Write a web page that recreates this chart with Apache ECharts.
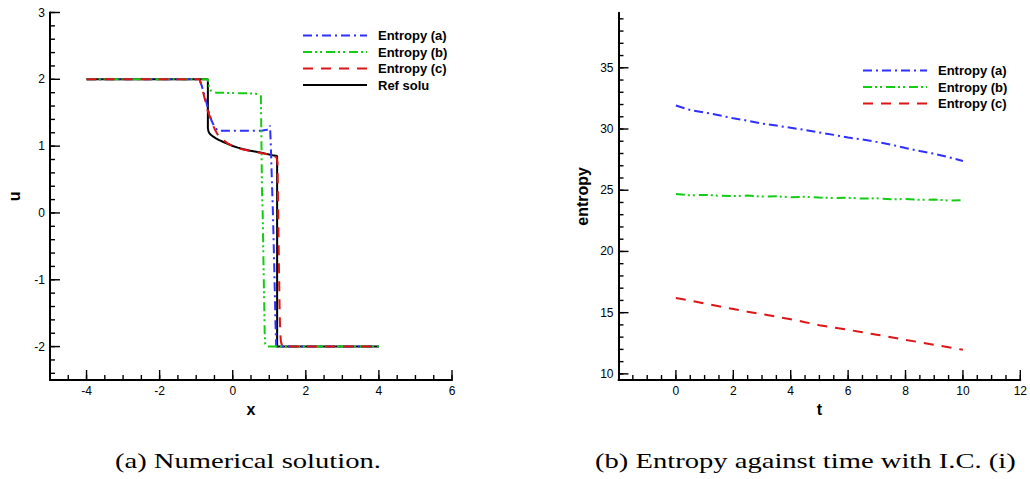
<!DOCTYPE html>
<html>
<head>
<meta charset="utf-8">
<script src="https://cdn.jsdelivr.net/npm/echarts@6/dist/echarts.min.js"></script>
<style>
  html, body { margin: 0; padding: 0; background: #fff; }
  #chart { width: 1030px; height: 479px; }
</style>
</head>
<body>
<div id="chart"></div>
<script>
// ---- Panel (a): numerical solution u(x) ----
const refX = [-4, -0.68, -0.68, -0.665, -0.64, -0.60, -0.54, -0.46, -0.37, -0.27, -0.14, 0.0, 0.14, 0.27, 0.45, 0.64, 0.86, 1.09, 1.215, 1.215, 4];
const refU = [2, 2, 1.27, 1.225, 1.195, 1.17, 1.145, 1.117, 1.09, 1.066, 1.033, 1.002, 0.978, 0.957, 0.936, 0.917, 0.892, 0.864, 0.853, -2, -2];

const entAX = [-4, -0.91, -0.84, -0.75, -0.66, -0.58, -0.50, -0.41, 0.0, 0.5, 0.78, 0.90, 0.99, 1.02, 1.04, 1.07, 1.10, 1.14, 1.17, 1.19, 4];
const entAU = [2, 2, 1.89, 1.72, 1.52, 1.38, 1.29, 1.232, 1.232, 1.232, 1.232, 1.24, 1.255, 1.31, 1.05, 0.5, 0.0, -0.9, -1.65, -2, -2];

const entBX = [-4, -0.68, -0.65, -0.60, -0.54, -0.45, 0.0, 0.4, 0.73, 0.77, 0.785, 0.80, 0.82, 0.84, 0.86, 0.875, 0.89, 0.93, 4];
const entBU = [2, 2, 1.90, 1.83, 1.805, 1.80, 1.795, 1.79, 1.78, 1.745, 1.1, 0.35, 0.0, -0.7, -1.3, -1.8, -1.96, -2, -2];

const entCX = [-4, -0.91, -0.87, -0.78, -0.69, -0.59, -0.50, -0.42, -0.32, -0.15, 0.0, 0.18, 0.45, 0.75, 1.0, 1.12, 1.20, 1.225, 1.245, 1.265, 1.285, 1.30, 1.32, 1.36, 4];
const entCU = [2, 2, 1.94, 1.74, 1.54, 1.39, 1.26, 1.18, 1.117, 1.045, 1.0, 0.962, 0.932, 0.902, 0.874, 0.86, 0.83, 0.75, 0.0, -0.8, -1.5, -1.8, -1.93, -2, -2];

const xMajorA = [-4, -2, 0, 2, 4, 6];
const uMajorA = [-2, -1, 0, 1, 2, 3];

// ---- Panel (b): entropy against time ----
const timeB = [0, 0.5, 1, 1.5, 2, 2.5, 3, 3.5, 4, 4.5, 5, 5.5, 6, 6.5, 7, 7.5, 8, 8.5, 9, 9.5, 10];
const entropyA = [31.92, 31.55, 31.35, 31.12, 30.88, 30.68, 30.45, 30.28, 30.10, 29.92, 29.72, 29.52, 29.30, 29.15, 28.95, 28.72, 28.45, 28.20, 27.98, 27.70, 27.38];
const entropyB = [24.70, 24.58, 24.62, 24.55, 24.52, 24.56, 24.48, 24.50, 24.43, 24.47, 24.40, 24.36, 24.38, 24.32, 24.34, 24.26, 24.28, 24.22, 24.24, 24.16, 24.18];
const entropyC = [16.20, 15.98, 15.75, 15.52, 15.30, 15.08, 14.88, 14.67, 14.47, 14.22, 13.98, 13.78, 13.60, 13.40, 13.20, 12.99, 12.78, 12.58, 12.38, 12.18, 11.97];

const tMajorB = [0, 2, 4, 6, 8, 10, 12];
const sMajorB = [10, 15, 20, 25, 30, 35];

const seriesNames = ['Entropy (a)', 'Entropy (b)', 'Entropy (c)', 'Ref solu'];

const FONT = '"Liberation Sans", Arial, Helvetica, sans-serif';
const styles = {
  'Entropy (a)': { color: '#2f2fff', type: [9, 4, 2, 4] },
  'Entropy (b)': { color: '#14cc14', type: [9, 3, 2, 3, 2, 4] },
  'Entropy (c)': { color: '#dd1515', type: [10, 8] },
  'Ref solu': { color: '#000000', type: 'solid' }
};

// plot frames (pixels) and their value ranges
const panels = [
  { rect: { left: 50, top: 12.5, width: 402, height: 367.5 }, x: [-5, 6], y: [-2.5, 3] },
  { rect: { left: 618.5, top: 12.7, width: 402, height: 367.3 }, x: [-2, 12], y: [9.5, 39.5] }
];

// evenly spaced minor tick positions
function tickRange(from, to, step) {
  const out = [];
  const n = Math.round((to - from) / step);
  for (let i = 0; i <= n; i++) out.push(Math.round((from + i * step) * 1000) / 1000);
  return out;
}

function frameAxes(p, gridIndex, major, dim, name, nameGap) {
  return {
    type: 'value', gridIndex,
    min: p[dim][0], max: p[dim][1],
    position: dim === 'x' ? 'bottom' : 'left',
    name, nameGap, nameLocation: 'middle',
    nameRotate: dim === 'y' ? 90 : 0,
    nameTextStyle: { color: '#000', fontFamily: FONT, fontWeight: 'bold', fontSize: 16 },
    axisLine: { show: true, onZero: false, lineStyle: { color: '#000', width: 2 } },
    axisTick: { show: false },
    axisLabel: { customValues: major, margin: 5, color: '#000', fontFamily: FONT, fontSize: 12 },
    splitLine: { show: false },
    axisPointer: { show: false }
  };
}

// inward tick marks along the bottom (dim 'x') or left (dim 'y') axis line
function tickSeries(p, axisIndex, dim, values, len) {
  return {
    type: 'custom', xAxisIndex: axisIndex, yAxisIndex: axisIndex,
    silent: true, clip: false, animation: false, z: 5,
    data: values.map(v => dim === 'x' ? [v, p.y[0]] : [p.x[0], v]),
    renderItem(params, api) {
      const pt = api.coord([api.value(0), api.value(1)]);
      const shape = dim === 'x'
        ? { x1: pt[0], y1: pt[1], x2: pt[0], y2: pt[1] - len }
        : { x1: pt[0], y1: pt[1], x2: pt[0] + len, y2: pt[1] };
      return { type: 'line', shape, style: { stroke: '#000', lineWidth: 1.4 } };
    }
  };
}

const pairs = (xs, ys) => xs.map((x, i) => [x, ys[i]]);

function lineSeries(name, data, axisIndex) {
  const s = styles[name];
  return {
    name, type: 'line', data, xAxisIndex: axisIndex, yAxisIndex: axisIndex,
    symbol: 'none', smooth: false, animation: false, silent: true,
    lineStyle: { color: s.color, width: 2, type: s.type },
    itemStyle: { color: s.color }
  };
}

function legendAt(left, top, names) {
  return {
    orient: 'vertical', left, top, padding: 0,
    itemWidth: 64, itemHeight: 14, itemGap: 3.5,
    selectedMode: false,
    data: names,
    itemStyle: { opacity: 0 },
    textStyle: { color: '#000', fontFamily: FONT, fontWeight: 'bold', fontSize: 13, padding: [0, 0, 0, 6] }
  };
}

const captionFont = '22px "Liberation Serif", "Times New Roman", serif';
const [pA, pB] = panels;

const option = {
  backgroundColor: '#ffffff',
  animation: false,
  grid: panels.map(p => Object.assign({ containLabel: false }, p.rect)),
  xAxis: [
    frameAxes(pA, 0, xMajorA, 'x', 'x', 13),
    frameAxes(pB, 1, tMajorB, 'x', 't', 13)
  ],
  yAxis: [
    frameAxes(pA, 0, uMajorA, 'y', 'u', 28),
    frameAxes(pB, 1, sMajorB, 'y', 'entropy', 28)
  ],
  legend: [
    legendAt(302, 29, seriesNames),
    legendAt(862, 64, seriesNames.slice(0, 3))
  ],
  series: [
    // axis ticks: panel (a) x every 0.5 / 2, u every 0.2 / 1
    tickSeries(pA, 0, 'x', tickRange(-4.5, 6, 0.5), 5),
    tickSeries(pA, 0, 'x', xMajorA, 10),
    tickSeries(pA, 0, 'y', tickRange(-2.4, 3, 0.2), 5),
    tickSeries(pA, 0, 'y', uMajorA, 10),
    // panel (b): t every 0.5 / 2, entropy every 1 / 5
    tickSeries(pB, 1, 'x', tickRange(-1.5, 12, 0.5), 5),
    tickSeries(pB, 1, 'x', tMajorB, 10),
    tickSeries(pB, 1, 'y', tickRange(10, 39, 1), 5),
    tickSeries(pB, 1, 'y', sMajorB, 10),

    lineSeries('Ref solu', pairs(refX, refU), 0),
    lineSeries('Entropy (a)', pairs(entAX, entAU), 0),
    lineSeries('Entropy (b)', pairs(entBX, entBU), 0),
    lineSeries('Entropy (c)', pairs(entCX, entCU), 0),
    lineSeries('Entropy (a)', pairs(timeB, entropyA), 1),
    lineSeries('Entropy (b)', pairs(timeB, entropyB), 1),
    lineSeries('Entropy (c)', pairs(timeB, entropyC), 1)
  ],
  graphic: [
    { type: 'text', x: 115, y: 461, scaleX: 1.3, silent: true,
      style: { text: '(a) Numerical solution.', font: captionFont, fill: '#000', verticalAlign: 'middle' } },
    { type: 'text', x: 595, y: 461, scaleX: 1.3, silent: true,
      style: { text: '(b) Entropy against time with I.C. (i)', font: captionFont, fill: '#000', verticalAlign: 'middle' } }
  ]
};

const chart = echarts.init(document.getElementById('chart'), null, { renderer: 'svg' });
chart.setOption(option);
</script>
</body>
</html>
